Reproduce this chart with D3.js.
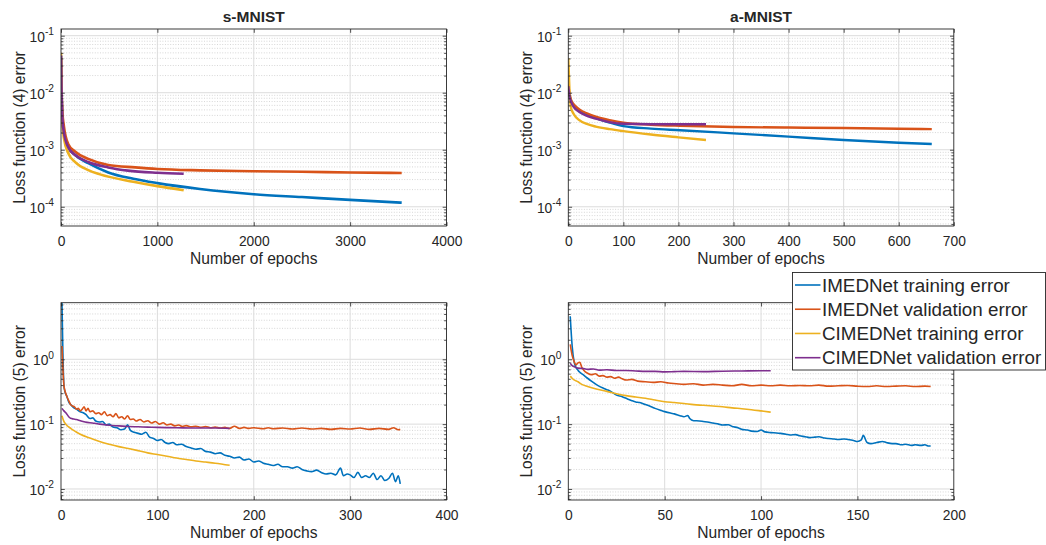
<!DOCTYPE html>
<html><head><meta charset="utf-8">
<script src="https://cdn.jsdelivr.net/npm/d3@7"></script>
<style>
body{margin:0;background:#fff}
svg{display:block}
text{font-family:"Liberation Sans",Arial,Helvetica,sans-serif;fill:#262626}
</style>
</head><body>
<svg id="chart" width="1046" height="545"></svg>
<script>
// ---------------- DATA ----------------
const seriesNames = ["IMEDNet training error","IMEDNet validation error","CIMEDNet training error","CIMEDNet validation error"];
const panelTitles = ["s-MNIST","a-MNIST","",""];
const yLabels = ["Loss function (4) error","Loss function (4) error","Loss function (5) error","Loss function (5) error"];
const xLabel = "Number of epochs";
const xTicksSL4 = [0,1000,2000,3000,4000];
const xTicksAL4 = [0,100,200,300,400,500,600,700];
const xTicksSL5 = [0,100,200,300,400];
const xTicksAL5 = [0,50,100,150,200];
const yTicksL4 = [1e-4,1e-3,1e-2,1e-1];
const yTicksL5 = [1e-2,1e-1,1e0];
const yDomainL4 = [4.6e-5,0.131];
const yDomainL5 = [0.00676,7.46];

// s-MNIST, loss (4)
const sL4_imedTrain = [[0,0.045],[5,0.012],[15,3.5e-3],[30,2e-3],[76,1.12e-3],[150,8e-4],[283,5.8e-4],[490,4.0e-4],[750,3.1e-4],[1000,2.6e-4],[1442,2.05e-4],[2000,1.66e-4],[2500,1.48e-4],[3000,1.32e-4],[3535,1.18e-4]];
const sL4_imedVal = [[0,0.04],[5,0.013],[15,4.5e-3],[30,2.6e-3],[76,1.25e-3],[145,9.3e-4],[283,6.9e-4],[490,5.4e-4],[770,4.9e-4],[1000,4.6e-4],[1442,4.35e-4],[2000,4.2e-4],[2500,4.1e-4],[3000,4.0e-4],[3535,3.9e-4]];
const sL4_cimedTrain = [[0,0.05],[5,0.01],[15,2.8e-3],[30,1.6e-3],[76,8.7e-4],[150,6e-4],[283,4.4e-4],[405,3.7e-4],[750,2.75e-4],[1000,2.3e-4],[1273,1.95e-4]];
const sL4_cimedVal = [[0,0.045],[5,0.012],[15,3.5e-3],[30,2e-3],[76,1.1e-3],[150,8e-4],[283,6.1e-4],[490,4.9e-4],[695,4.3e-4],[1000,3.95e-4],[1273,3.8e-4]];

// a-MNIST, loss (4)
const aL4_imedTrain = [[0,0.012],[2,0.009],[5,7.2e-3],[10,5.8e-3],[20,4.8e-3],[35,4.1e-3],[50,3.6e-3],[75,3e-3],[100,2.6e-3],[150,2.35e-3],[203,2.2e-3],[300,1.94e-3],[400,1.7e-3],[500,1.48e-3],[600,1.33e-3],[660,1.26e-3]];
const aL4_imedVal = [[0,0.014],[2,0.01],[5,7.5e-3],[10,6.2e-3],[20,5.1e-3],[35,4.3e-3],[50,3.8e-3],[75,3.3e-3],[100,2.97e-3],[150,2.75e-3],[203,2.63e-3],[300,2.5e-3],[400,2.45e-3],[500,2.4e-3],[600,2.34e-3],[660,2.3e-3]];
const aL4_cimedTrain = [[0,0.04],[2,0.012],[5,5.4e-3],[10,4.2e-3],[20,3.3e-3],[35,2.8e-3],[50,2.55e-3],[75,2.3e-3],[100,2.12e-3],[150,1.85e-3],[200,1.65e-3],[250,1.48e-3]];
const aL4_cimedVal = [[0,0.013],[2,0.009],[5,7e-3],[10,5.6e-3],[20,4.6e-3],[35,3.9e-3],[50,3.5e-3],[75,3.05e-3],[100,2.85e-3],[150,2.8e-3],[200,2.8e-3],[250,2.8e-3]];

// s-MNIST, loss (5)
const sL5_imedTrain = [[1,7.5],[2,1.2],[3,0.4],[4,0.32],[6,0.27],[8,0.22],[10,0.2],[13,0.18],[16,0.17],[20,0.155],[23,0.15],[26,0.14],[30,0.122],[33,0.125],[36,0.112],[40,0.108],[43,0.11],[47,0.097],[50,0.1],[54,0.09],[58,0.088],[62,0.082],[66,0.084],[69,0.098],[72,0.08],[76,0.075],[80,0.072],[84,0.07],[88,0.075],[92,0.063],[96,0.06],[100,0.056],[104,0.058],[108,0.052],[112,0.05],[116,0.052],[120,0.048],[125,0.049],[130,0.045],[135,0.043],[140,0.041],[145,0.042],[150,0.038],[155,0.037],[160,0.035],[165,0.036],[170,0.033],[175,0.032],[180,0.03],[185,0.031],[190,0.028],[195,0.029],[200,0.026],[205,0.027],[210,0.025],[215,0.024],[220,0.023],[225,0.024],[230,0.022],[235,0.022],[240,0.021],[245,0.022],[250,0.02],[255,0.019],[260,0.0185],[265,0.0195],[270,0.018],[275,0.017],[280,0.0175],[285,0.0165],[290,0.021],[293,0.016],[297,0.017],[300,0.0165],[304,0.015],[308,0.018],[312,0.015],[316,0.016],[320,0.015],[324,0.0175],[328,0.014],[332,0.016],[336,0.0135],[340,0.0145],[344,0.0175],[347,0.013],[350,0.016],[352,0.012]];
const sL5_imedVal = [[1,1.6],[2,0.7],[3,0.4],[4,0.33],[6,0.27],[8,0.23],[10,0.2],[12,0.19],[14,0.185],[16,0.17],[18,0.175],[20,0.16],[22,0.17],[24,0.185],[26,0.16],[28,0.175],[30,0.155],[33,0.16],[36,0.145],[39,0.15],[42,0.14],[45,0.155],[48,0.135],[51,0.14],[54,0.13],[57,0.145],[60,0.125],[63,0.13],[66,0.12],[69,0.135],[72,0.118],[75,0.12],[78,0.112],[82,0.118],[86,0.108],[90,0.113],[94,0.104],[98,0.11],[102,0.1],[106,0.105],[110,0.097],[114,0.1],[118,0.094],[122,0.097],[126,0.092],[130,0.095],[135,0.091],[140,0.093],[145,0.089],[150,0.092],[155,0.088],[160,0.09],[165,0.087],[170,0.089],[175,0.086],[180,0.093],[185,0.086],[190,0.089],[195,0.086],[200,0.088],[210,0.085],[215,0.088],[220,0.085],[230,0.087],[240,0.084],[250,0.087],[260,0.084],[270,0.086],[280,0.083],[290,0.086],[300,0.084],[310,0.087],[320,0.083],[330,0.086],[340,0.083],[345,0.088],[350,0.082],[352,0.083]];
const sL5_cimedTrain = [[1,0.135],[3,0.11],[5,0.1],[10,0.086],[15,0.077],[20,0.07],[30,0.061],[40,0.054],[50,0.049],[60,0.045],[70,0.042],[80,0.039],[90,0.036],[100,0.034],[110,0.032],[120,0.03],[130,0.0285],[140,0.027],[150,0.026],[160,0.025],[175,0.0232]];
const sL5_cimedVal = [[1,0.175],[3,0.16],[5,0.15],[8,0.13],[10,0.123],[13,0.12],[16,0.118],[20,0.113],[25,0.108],[30,0.105],[35,0.103],[40,0.1],[50,0.096],[60,0.094],[70,0.092],[80,0.091],[90,0.09],[100,0.089],[120,0.088],[140,0.087],[160,0.087],[175,0.086]];

// a-MNIST, loss (5)
const aL5_imedTrain = [[1,4.6],[2,1.6],[3,0.92],[4,0.75],[5,0.68],[6,0.63],[8,0.57],[10,0.51],[12,0.46],[15,0.4],[18,0.36],[20,0.34],[22,0.32],[25,0.28],[28,0.265],[30,0.25],[33,0.23],[35,0.22],[37,0.215],[40,0.2],[43,0.185],[45,0.175],[48,0.163],[50,0.156],[53,0.148],[55,0.144],[58,0.135],[60,0.13],[62,0.136],[63,0.122],[65,0.113],[68,0.112],[70,0.11],[73,0.107],[75,0.104],[78,0.1],[80,0.097],[83,0.098],[85,0.092],[88,0.088],[90,0.083],[93,0.081],[95,0.078],[98,0.077],[100,0.081],[102,0.076],[105,0.074],[108,0.073],[110,0.072],[113,0.07],[115,0.068],[118,0.069],[120,0.066],[123,0.064],[125,0.062],[128,0.063],[130,0.064],[133,0.061],[135,0.06],[138,0.059],[140,0.058],[143,0.059],[145,0.058],[148,0.056],[150,0.054],[152,0.057],[153,0.067],[155,0.052],[157,0.05],[160,0.052],[163,0.054],[165,0.052],[168,0.05],[170,0.05],[173,0.048],[175,0.049],[178,0.047],[180,0.048],[183,0.047],[185,0.048],[187,0.046],[188,0.046]];
const aL5_imedVal = [[1,1.7],[2,1.15],[3,0.93],[4,0.82],[5,0.88],[6,0.9],[7,0.75],[8,0.68],[10,0.61],[12,0.58],[14,0.6],[16,0.55],[18,0.56],[20,0.53],[22,0.54],[24,0.51],[26,0.53],[28,0.5],[30,0.48],[33,0.49],[36,0.46],[40,0.45],[44,0.44],[48,0.45],[52,0.43],[56,0.42],[60,0.41],[65,0.42],[70,0.4],[75,0.41],[80,0.4],[85,0.39],[90,0.41],[95,0.39],[100,0.4],[105,0.39],[110,0.4],[115,0.39],[120,0.395],[125,0.39],[130,0.4],[135,0.385],[140,0.39],[145,0.395],[150,0.385],[155,0.38],[160,0.39],[165,0.38],[170,0.385],[175,0.39],[180,0.38],[185,0.385],[188,0.38]];
const aL5_cimedTrain = [[1,0.55],[2,0.51],[3,0.48],[5,0.45],[7,0.41],[10,0.38],[15,0.345],[20,0.32],[25,0.295],[30,0.275],[35,0.262],[40,0.25],[45,0.235],[50,0.222],[55,0.215],[60,0.208],[65,0.2],[70,0.195],[75,0.19],[80,0.185],[85,0.178],[90,0.173],[95,0.167],[100,0.16],[105,0.153]];
const aL5_cimedVal = [[1,0.87],[2,0.8],[3,0.77],[5,0.73],[8,0.72],[10,0.7],[13,0.71],[16,0.68],[20,0.69],[25,0.67],[30,0.67],[35,0.66],[40,0.65],[45,0.65],[50,0.64],[55,0.645],[60,0.65],[70,0.645],[80,0.655],[90,0.66],[100,0.665],[105,0.665]];

// ---------------- STYLE / LAYOUT ----------------
const colors = ["#0072BD","#D95319","#EDB120","#7E2F8E"];
const panels = [
  {box:[61,446.5,29,226], xMax:4000, xTicks:xTicksSL4, yDom:yDomainL4, yTicks:yTicksL4, series:[sL4_imedTrain,sL4_imedVal,sL4_cimedTrain,sL4_cimedVal], lw:2.6},
  {box:[568.3,953.8,29,226], xMax:700, xTicks:xTicksAL4, yDom:yDomainL4, yTicks:yTicksL4, series:[aL4_imedTrain,aL4_imedVal,aL4_cimedTrain,aL4_cimedVal], lw:2.4},
  {box:[61,446.5,302.7,500], xMax:400, xTicks:xTicksSL5, yDom:yDomainL5, yTicks:yTicksL5, series:[sL5_imedTrain,sL5_imedVal,sL5_cimedTrain,sL5_cimedVal], lw:1.6},
  {box:[568.3,953.8,302.7,500], xMax:200, xTicks:xTicksAL5, yDom:yDomainL5, yTicks:yTicksL5, series:[aL5_imedTrain,aL5_imedVal,aL5_cimedTrain,aL5_cimedVal], lw:1.6}
];
const axisColor = "#262626";
const svg = d3.select("#chart");

panels.forEach((p, i) => {
  const [L, R, T, B] = p.box;
  const x = d3.scaleLinear().domain([0, p.xMax]).range([L, R]);
  const y = d3.scaleLog().domain(p.yDom).range([B, T]);
  const g = svg.append("g");

  g.append("rect").attr("x", L).attr("y", T).attr("width", R - L).attr("height", B - T).attr("fill", "#fff");

  // minor y grid
  const minors = [];
  const e0 = Math.floor(Math.log10(p.yDom[0])), e1 = Math.ceil(Math.log10(p.yDom[1]));
  for (let e = e0; e <= e1; e++) for (let k = 2; k <= 9; k++) {
    const v = k * Math.pow(10, e);
    if (v > p.yDom[0] && v < p.yDom[1]) minors.push(v);
  }
  g.selectAll(".mg").data(minors).enter().append("line")
    .attr("x1", L).attr("x2", R).attr("y1", d => y(d)).attr("y2", d => y(d))
    .attr("stroke", "#c6c6c6").attr("stroke-width", 0.7).attr("stroke-dasharray", "1,1.6");
  // major grids
  g.selectAll(".yg").data(p.yTicks).enter().append("line")
    .attr("x1", L).attr("x2", R).attr("y1", d => y(d)).attr("y2", d => y(d))
    .attr("stroke", "#dcdcdc").attr("stroke-width", 1);
  g.selectAll(".xg").data(p.xTicks.slice(1, -1)).enter().append("line")
    .attr("y1", T).attr("y2", B).attr("x1", d => x(d)).attr("x2", d => x(d))
    .attr("stroke", "#dcdcdc").attr("stroke-width", 1);

  // lines
  const clipId = "clip" + i;
  svg.append("clipPath").attr("id", clipId).append("rect")
    .attr("x", L).attr("y", T).attr("width", R - L).attr("height", B - T);
  const line = d3.line().x(d => x(d[0])).y(d => y(d[1])).curve(d3.curveMonotoneX);
  const lg = g.append("g").attr("clip-path", `url(#${clipId})`);
  p.series.forEach((s, k) => {
    lg.append("path").attr("d", line(s)).attr("fill", "none")
      .attr("stroke", colors[k]).attr("stroke-width", p.lw)
      .attr("stroke-linejoin", "round").attr("stroke-linecap", "butt");
  });

  // axes (ticks inside)
  const tk = 3.8;
  const axB = d3.axisBottom(x).tickValues(p.xTicks).tickSize(-tk).tickPadding(tk + 6).tickFormat(d3.format("d"));
  const axT = d3.axisTop(x).tickValues(p.xTicks).tickSize(-tk).tickFormat("");
  const axL = d3.axisLeft(y).tickValues(p.yTicks).tickSize(-tk).tickFormat("");
  const axR = d3.axisRight(y).tickValues(p.yTicks).tickSize(-tk).tickFormat("");
  const axLm = d3.axisLeft(y).tickValues(minors).tickSize(-2.4).tickFormat("");
  const axRm = d3.axisRight(y).tickValues(minors).tickSize(-2.4).tickFormat("");
  const addAxis = (ax, tx, ty) => {
    const a = g.append("g").attr("transform", `translate(${tx},${ty})`).call(ax);
    a.select(".domain").remove();
    a.selectAll("line").attr("stroke", axisColor).attr("stroke-width", 0.8);
    a.selectAll("text").attr("fill", axisColor).style("font-size", "13.8px")
      .style("font-family", '"Liberation Sans",Arial,sans-serif');
    return a;
  };
  addAxis(axB, 0, B);
  addAxis(axT, 0, T);
  addAxis(axL, L, 0);
  addAxis(axR, R, 0);
  addAxis(axLm, L, 0);
  addAxis(axRm, R, 0);

  // y tick labels 10^n
  p.yTicks.forEach(v => {
    const t = g.append("text").attr("x", L - 7).attr("y", y(v) + 6)
      .attr("text-anchor", "end").style("font-size", "13.8px");
    t.append("tspan").text("10");
    t.append("tspan").attr("dy", -6.5).style("font-size", "10.2px").text(String(Math.round(Math.log10(v))));
  });

  // box
  g.append("rect").attr("x", L).attr("y", T).attr("width", R - L).attr("height", B - T)
    .attr("fill", "none").attr("stroke", axisColor).attr("stroke-width", 0.9);

  // labels
  g.append("text").attr("x", (L + R) / 2).attr("y", B + 38).attr("text-anchor", "middle")
    .style("font-size", "15.6px").text(xLabel);
  g.append("text").attr("transform", `translate(${L - 36},${(T + B) / 2}) rotate(-90)`)
    .attr("text-anchor", "middle").style("font-size", "15.6px").text(yLabels[i]);
  if (panelTitles[i]) {
    g.append("text").attr("x", (L + R) / 2).attr("y", T - 7.5).attr("text-anchor", "middle")
      .style("font-size", "15.5px").style("font-weight", "bold").text(panelTitles[i]);
  }
});

// legend
const leg = svg.append("g");
const lx = 792.5, ly = 272.5, lw = 253, lh = 97.5;
leg.append("rect").attr("x", lx).attr("y", ly).attr("width", lw).attr("height", lh)
  .attr("fill", "#fff").attr("stroke", axisColor).attr("stroke-width", 0.9);
const rowY = d3.scalePoint().domain(seriesNames).range([285, 357.7]);
seriesNames.forEach((n, k) => {
  leg.append("line").attr("x1", 795).attr("x2", 820.5).attr("y1", rowY(n)).attr("y2", rowY(n))
    .attr("stroke", colors[k]).attr("stroke-width", 1.6);
  leg.append("text").attr("x", 822).attr("y", rowY(n) + 6.7).style("font-size", "18.8px").text(n);
});
</script>
</body></html>
